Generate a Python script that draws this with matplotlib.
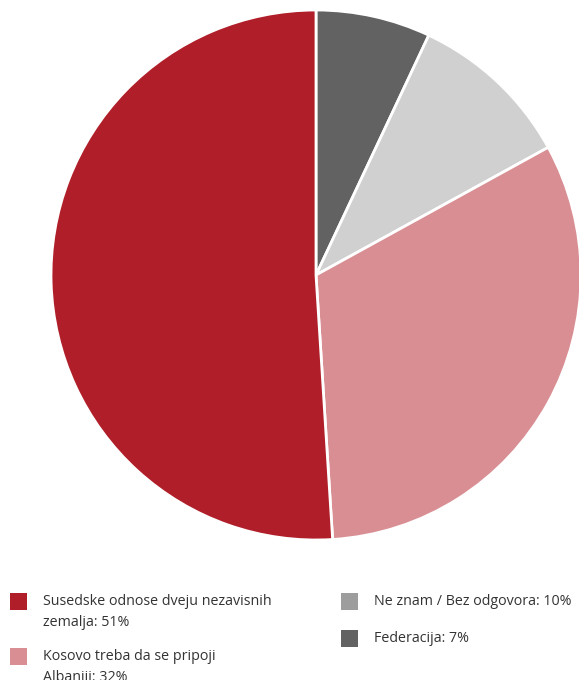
import matplotlib.pyplot as plt
from matplotlib.patches import Rectangle

# slices, clockwise from the top
labels = ['Federacija', 'Ne znam / Bez odgovora', 'Kosovo treba da se pripoji Albaniji',
          'Susedske odnose dveju nezavisnih zemalja']
values = [7, 10, 32, 51]
colors = ['#626262', '#d0d0d0', '#d88e93', '#b01f29']

# legend entries as printed under the chart
legend_text = ['Susedske odnose dveju nezavisnih\nzemalja: 51%',
               'Kosovo treba da se pripoji\nAlbaniji: 32%',
               'Ne znam / Bez odgovora: 10%',
               'Federacija: 7%']
legend_colors = ['#b01f29', '#d88e93', '#9d9d9d', '#626262']

plt.rcParams['font.family'] = ['Open Sans', 'DejaVu Sans']

W, H = 579, 680
fig = plt.figure(figsize=(W / 100, H / 100), dpi=100)

cx, cy, r = 316, 275, 265
ax = fig.add_axes([(cx - r) / W, (H - cy - r) / H, 2 * r / W, 2 * r / H])
ax.pie(values, colors=colors, startangle=90, counterclock=False,
       wedgeprops=dict(edgecolor='white', linewidth=2))
ax.set_xlim(-1, 1)
ax.set_ylim(-1, 1)
ax.axis('off')

# legend drawn in pixel positions (top-left origin)
pos = [(10, 593), (10, 648), (341, 593), (341, 630)]
for (x, y), txt, c in zip(pos, legend_text, legend_colors):
    fig.patches.append(Rectangle((x / W, (H - y - 17) / H), 17 / W, 17 / H,
                                 facecolor=c, edgecolor='none',
                                 transform=fig.transFigure, figure=fig))
    fig.text((x + 33) / W, (H - y - 1) / H, txt, fontsize=10.3, color='#333333',
             va='top', ha='left', linespacing=1.55)

fig.savefig('out.png', dpi=100)
